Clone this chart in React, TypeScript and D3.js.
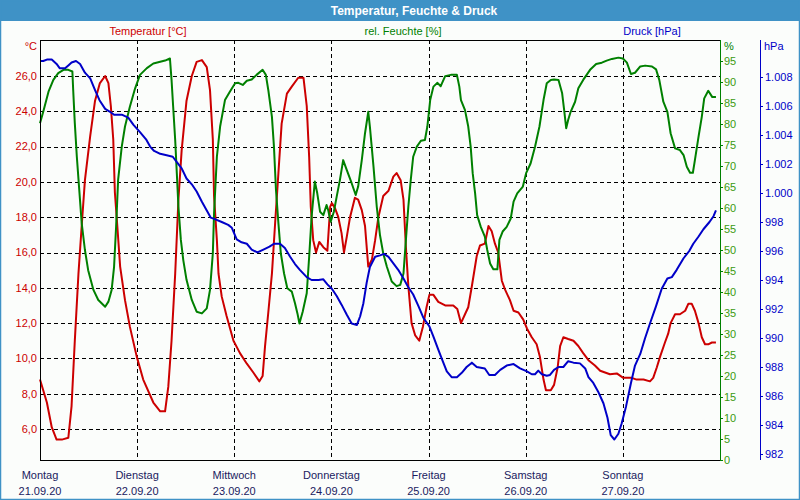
import React from "react";
import * as d3 from "d3";

// hours since Monday 21.09.20 00:00, value
const temperature: [number, number][] = [
  [0, 8.8], [1.7, 7.5], [2.9, 6.1], [4.1, 5.4], [5.4, 5.4], [7.0, 5.5], [7.8, 7.3], [8.6, 11.0], [9.5, 14.8],
  [10.3, 17.5], [11.1, 20.1], [12.4, 22.6], [13.6, 24.6], [14.8, 25.6], [16.1, 26.0], [16.9, 25.6], [17.5, 24.3],
  [18.1, 22.4], [18.5, 19.4], [19.1, 17.5], [19.8, 15.2], [21.0, 13.3], [22.2, 11.8], [23.9, 10.1], [25.5, 8.8],
  [28.0, 7.5], [29.7, 7.0], [30.9, 7.0], [31.7, 8.4], [32.5, 11.0], [33.4, 14.8], [34.2, 19.0], [35.0, 21.8],
  [36.2, 24.6], [37.5, 26.0], [38.7, 26.8], [40.0, 26.9], [41.2, 26.5], [42.0, 25.2], [42.7, 22.4], [43.0, 19.2],
  [43.7, 16.7], [44.1, 14.8], [44.9, 13.5], [46.1, 12.4], [47.8, 11.0], [49.4, 10.3], [51.1, 9.7], [52.7, 9.2],
  [54.2, 8.7], [55.0, 9.0], [55.6, 10.7], [56.4, 12.6], [57.3, 14.8], [58.1, 17.7], [58.9, 20.5], [59.7, 23.3],
  [61.0, 25.0], [62.2, 25.4], [63.8, 25.9], [65.1, 25.9], [65.9, 24.3], [66.5, 21.4], [66.9, 18.6], [67.5, 16.7],
  [68.2, 16.0], [69.0, 16.6], [70.0, 16.3], [71.0, 16.1], [71.7, 18.6], [72.1, 18.8], [72.9, 18.5], [73.7, 18.0],
  [74.5, 17.1], [75.1, 16.0], [75.8, 16.9], [76.6, 18.0], [77.8, 19.1], [78.6, 19.0], [79.5, 18.4], [80.3, 17.5],
  [81.1, 15.2], [82.0, 15.6], [82.8, 16.7], [83.6, 18.0], [84.8, 19.2], [86.1, 19.5], [87.3, 20.3], [88.1, 20.5],
  [89.1, 20.1], [89.8, 19.0], [90.4, 16.3], [91.0, 14.1], [91.8, 12.0], [92.7, 11.3], [93.7, 11.0], [94.6, 11.8],
  [95.5, 12.9], [96.2, 13.6], [97.2, 13.6], [98.4, 13.2], [100.1, 13.0], [102.1, 13.0], [103.1, 12.8], [104.0, 12.0],
  [105.0, 12.5], [105.8, 12.9], [106.7, 14.1], [107.9, 15.8], [108.7, 16.4], [109.9, 16.5], [110.8, 17.5],
  [111.6, 17.2], [112.4, 16.5], [113.2, 16.0], [114.1, 14.4], [114.9, 13.9], [116.1, 13.3], [117.0, 12.7],
  [118.2, 12.6], [119.4, 12.2], [120.3, 11.7], [121.5, 11.2], [122.7, 10.8], [123.5, 10.1], [124.4, 8.8],
  [125.0, 8.2], [126.2, 8.2], [127.0, 8.5], [127.9, 9.5], [128.5, 10.7], [129.3, 11.2], [130.5, 11.1],
  [131.8, 11.0], [133.0, 10.7], [134.2, 10.3], [135.5, 9.9], [137.1, 9.6], [138.4, 9.3], [139.6, 9.2],
  [140.8, 9.1], [142.5, 9.15], [144.1, 8.9], [146.2, 8.9], [147.4, 8.8], [149.1, 8.8], [150.7, 8.7], [151.5, 8.9],
  [152.4, 9.5], [153.2, 10.1], [154.4, 10.9], [155.2, 11.4], [155.8, 12.0], [156.9, 12.5], [158.1, 12.5],
  [159.4, 12.7], [160.2, 13.1], [161.0, 13.1], [161.8, 12.7], [162.7, 12.0], [163.5, 11.2], [164.3, 10.8],
  [165.1, 10.8], [166.0, 10.9], [167.0, 10.9],
];

const humidity: [number, number][] = [
  [0, 80.2], [0.8, 82.9], [2.1, 87.7], [3.3, 90.5], [4.5, 92.1], [5.8, 92.9], [7.0, 92.9], [8.0, 92.5], [8.2, 88.1],
  [8.6, 80.2], [9.1, 72.2], [9.7, 64.3], [10.3, 56.4], [11.1, 50.0], [11.9, 45.2], [13.2, 40.5], [14.4, 38.1],
  [16.1, 36.5], [16.9, 37.7], [17.7, 40.5], [18.3, 46.0], [18.8, 55.5], [19.3, 66.7], [20.2, 74.6], [21.0, 79.4],
  [22.2, 84.1], [23.5, 88.5], [24.7, 91.7], [26.4, 93.3], [28.0, 94.4], [29.7, 94.8], [30.9, 95.1], [32.1, 95.6],
  [32.5, 90.5], [32.9, 84.1], [33.4, 76.2], [33.8, 68.3], [34.2, 60.3], [34.8, 52.4], [35.4, 47.6], [36.2, 42.9],
  [37.5, 38.1], [38.7, 35.3], [40.0, 34.9], [41.2, 36.1], [42.0, 40.5], [42.7, 49.2], [43.0, 58.7], [43.7, 72.2],
  [44.5, 79.4], [45.7, 85.7], [46.9, 87.7], [48.2, 89.7], [49.0, 89.8], [50.1, 89.3], [51.1, 90.3], [52.3, 90.6],
  [53.5, 91.7], [55.0, 92.9], [55.8, 91.7], [56.4, 88.1], [57.3, 81.7], [57.8, 74.6], [58.3, 64.3], [58.9, 56.4],
  [59.5, 49.2], [60.3, 44.4], [61.1, 40.9], [62.2, 40.1], [63.0, 37.3], [63.6, 34.9], [64.1, 32.5], [64.9, 35.3],
  [65.9, 39.7], [66.5, 48.4], [67.1, 57.9], [67.9, 66.3], [68.5, 63.5], [69.2, 59.1], [70.0, 58.3], [70.8, 60.7],
  [71.2, 59.5], [71.8, 56.7], [72.6, 59.1], [73.3, 62.7], [74.1, 66.7], [74.9, 71.4], [75.8, 69.0], [77.0, 65.9],
  [78.0, 63.1], [78.6, 65.1], [79.5, 71.4], [80.3, 77.8], [81.1, 82.9], [81.5, 79.4], [82.4, 69.8], [83.2, 60.3],
  [84.0, 53.5], [84.8, 49.2], [85.7, 46.0], [86.9, 42.5], [88.1, 41.4], [89.0, 41.7], [89.8, 44.4], [90.4, 52.4],
  [91.0, 60.3], [91.6, 66.7], [92.2, 72.2], [93.1, 74.6], [94.1, 76.0], [95.1, 76.2], [95.7, 79.4], [96.4, 85.7],
  [97.2, 88.9], [98.2, 89.8], [99.0, 89.0], [100.1, 91.4], [101.5, 91.7], [103.0, 91.7], [103.6, 88.9],
  [104.0, 85.7], [105.0, 83.3], [105.8, 79.4], [106.4, 74.6], [106.9, 68.3], [107.5, 63.5], [108.0, 58.3],
  [108.9, 55.5], [109.9, 53.2], [110.5, 50.0], [111.2, 46.8], [112.0, 45.4], [113.0, 45.4], [113.5, 52.4],
  [114.3, 54.4], [115.3, 55.5], [116.3, 57.5], [117.0, 61.5], [117.9, 63.5], [119.3, 65.1], [120.1, 68.3],
  [121.2, 70.6], [122.3, 74.6], [123.4, 79.4], [124.4, 85.7], [125.2, 89.7], [126.2, 90.5], [127.0, 90.6],
  [128.1, 90.5], [129.0, 87.3], [129.5, 83.3], [130.0, 79.0], [130.5, 81.0], [131.1, 82.9], [132.2, 85.3],
  [133.0, 88.5], [134.2, 90.5], [135.9, 92.9], [137.4, 94.3], [138.8, 94.6], [140.0, 95.1], [141.3, 95.5],
  [142.9, 95.8], [144.0, 95.6], [145.0, 94.6], [146.0, 91.9], [147.0, 92.2], [148.3, 93.7], [149.5, 93.9],
  [151.2, 93.7], [152.2, 93.0], [153.0, 90.5], [154.0, 85.3], [155.0, 82.9], [155.8, 77.8], [156.9, 74.2],
  [158.1, 73.8], [159.0, 72.6], [159.8, 69.8], [160.6, 68.4], [161.3, 68.4], [161.8, 71.4], [162.7, 77.0],
  [163.5, 81.7], [164.1, 86.1], [165.1, 87.9], [166.1, 86.4], [167.0, 86.4],
];

const pressure: [number, number][] = [
  [0, 1009.1], [0.8, 1009.1], [1.7, 1009.2], [2.9, 1009.2], [4.1, 1008.9], [4.9, 1008.6], [6.2, 1008.6],
  [7.0, 1008.8], [7.8, 1009.0], [8.9, 1009.1], [9.9, 1008.9], [11.1, 1008.3], [12.4, 1007.9], [13.6, 1007.1],
  [14.7, 1006.4], [16.1, 1005.8], [17.3, 1005.6], [18.3, 1005.4], [20.2, 1005.4], [21.8, 1005.2], [23.1, 1004.7],
  [24.7, 1004.2], [26.2, 1003.7], [27.2, 1003.2], [28.2, 1002.9], [29.7, 1002.7], [31.3, 1002.6], [32.8, 1002.5],
  [33.9, 1002.1], [35.0, 1001.7], [36.2, 1001.0], [37.5, 1000.6], [38.7, 1000.1], [40.0, 999.4], [41.2, 998.8],
  [42.2, 998.3], [43.2, 998.2], [44.9, 998.0], [46.5, 997.8], [47.4, 997.6], [48.6, 996.8], [49.8, 996.6],
  [51.1, 996.5], [52.3, 996.1], [53.7, 995.9], [55.2, 996.1], [56.7, 996.3], [57.8, 996.5], [59.3, 996.5],
  [60.5, 996.2], [61.8, 995.6], [63.0, 995.1], [64.2, 994.7], [65.9, 994.2], [67.1, 994.0], [68.8, 994.0],
  [70.0, 994.05], [71.0, 993.7], [72.1, 993.4], [73.3, 992.9], [74.5, 992.3], [75.8, 991.6], [77.0, 991.0],
  [78.3, 990.9], [79.1, 991.5], [79.9, 992.4], [80.7, 993.8], [81.5, 994.9], [82.8, 995.6], [84.0, 995.7],
  [85.0, 995.8], [86.1, 995.6], [87.3, 995.15], [88.5, 994.7], [89.8, 994.1], [91.0, 993.5], [92.2, 993.0],
  [93.5, 992.2], [94.7, 991.4], [96.2, 990.8], [97.2, 990.1], [98.4, 989.2], [99.5, 988.4], [100.5, 987.7],
  [101.7, 987.3], [103.0, 987.3], [104.2, 987.6], [105.4, 988.0], [106.7, 988.3], [107.9, 988.0], [109.9, 987.9],
  [111.0, 987.45], [112.4, 987.45], [113.7, 987.8], [115.3, 988.1], [117.0, 988.2], [118.6, 987.9],
  [120.3, 987.7], [121.5, 987.5], [122.3, 987.5], [123.1, 987.75], [124.0, 987.5], [125.2, 987.4],
  [126.0, 987.45], [127.0, 987.8], [128.1, 988.0], [129.3, 988.0], [130.5, 988.4], [131.8, 988.3],
  [133.4, 988.25], [134.7, 987.9], [135.5, 987.3], [136.7, 986.9], [137.9, 986.3], [139.2, 985.5],
  [140.2, 984.5], [141.0, 983.3], [141.9, 983.0], [142.9, 983.4], [143.7, 984.1], [144.8, 985.3], [146.0, 986.9],
  [147.0, 988.1], [148.3, 988.9], [149.5, 990.0], [150.7, 991.0], [152.2, 992.2], [153.6, 993.4], [155.0, 994.1],
  [156.1, 994.2], [157.3, 994.7], [159.0, 995.5], [160.4, 996.0], [161.4, 996.5], [162.7, 997.0], [163.9, 997.5],
  [165.4, 998.0], [166.4, 998.4], [167.0, 998.8],
];

const dayNames = ["Montag", "Dienstag", "Mittwoch", "Donnerstag", "Freitag", "Samstag", "Sonntag"];
const dayDates = ["21.09.20", "22.09.20", "23.09.20", "24.09.20", "25.09.20", "26.09.20", "27.09.20"];
const tempTicks = [6, 8, 10, 12, 14, 16, 18, 20, 22, 24, 26];
const humTicks = [0, 5, 10, 15, 20, 25, 30, 35, 40, 45, 50, 55, 60, 65, 70, 75, 80, 85, 90, 95];
const pressTicks = [982, 984, 986, 988, 990, 992, 994, 996, 998, 1000, 1002, 1004, 1006, 1008];

const W = 800;
const H = 500;
const L = 40, R = 720, T = 40, B = 460;
const FONT = "'Liberation Sans', Arial, sans-serif";
const RED = "#cc0000";
const GREEN = "#008000";
const BLUE = "#0000c8";
const TITLEBLUE = "#3f92c6";

export default function App() {
  const x = d3.scaleLinear().domain([0, 168]).range([L, R]);
  const yT = d3.scaleLinear().domain([6, 26]).range([429, 76]);
  const yH = d3.scaleLinear().domain([0, 100]).range([B, T]);
  const yP = d3.scaleLinear().domain([982, 1008]).range([454, 77]);

  const lineT = d3.line<[number, number]>().x((d) => x(d[0])).y((d) => yT(d[1]));
  const lineH = d3.line<[number, number]>().x((d) => x(d[0])).y((d) => yH(d[1]));
  const lineP = d3.line<[number, number]>().x((d) => x(d[0])).y((d) => yP(d[1]));

  const fmtT = (v: number) => v.toFixed(1).replace(".", ",");
  const fmtP = (v: number) => (v >= 1000 ? `${Math.floor(v / 1000)}.${String(v % 1000).padStart(3, "0")}` : String(v));

  return (
    <svg
      width={W}
      height={H}
      style={{ position: "fixed", left: 0, top: 0, display: "block" }}
      fontFamily={FONT}
    >
      <rect x={0} y={0} width={W} height={H} fill="#fbfdfb" />
      <rect x={0} y={0} width={W} height={21} fill={TITLEBLUE} />
      <rect x={0.5} y={0.5} width={W - 1} height={H - 1} fill="none" stroke={TITLEBLUE} strokeWidth={1.5} />
      <text x={414} y={15} textAnchor="middle" fill="#ffffff" fontWeight="bold" fontSize={12}>
        Temperatur, Feuchte &amp; Druck
      </text>

      {/* legend captions */}
      <text x={148} y={35} textAnchor="middle" fill={RED} fontSize={11}>Temperatur [°C]</text>
      <text x={403} y={35} textAnchor="middle" fill={GREEN} fontSize={11}>rel. Feuchte [%]</text>
      <text x={652} y={35} textAnchor="middle" fill={BLUE} fontSize={11}>Druck [hPa]</text>

      {/* plot background */}
      <rect x={L} y={T} width={R - L} height={B - T} fill="#fbfdfb" />

      {/* grid */}
      <g stroke="#000" strokeWidth={1} strokeDasharray="4,3" shapeRendering="crispEdges">
        {tempTicks.map((t) => (
          <line key={"h" + t} x1={L} x2={R} y1={Math.round(yT(t)) + 0.5} y2={Math.round(yT(t)) + 0.5} />
        ))}
        {d3.range(1, 7).map((d) => (
          <line key={"v" + d} x1={Math.round(x(d * 24)) + 0.5} x2={Math.round(x(d * 24)) + 0.5} y1={T} y2={B} />
        ))}
      </g>

      {/* series */}
      <g fill="none" strokeWidth={2} strokeLinejoin="round">
        <path d={lineT(temperature) || ""} stroke={RED} />
        <path d={lineH(humidity) || ""} stroke={GREEN} />
        <path d={lineP(pressure) || ""} stroke={BLUE} />
      </g>

      {/* frame */}
      <g shapeRendering="crispEdges">
        <line x1={L} x2={R} y1={T + 0.5} y2={T + 0.5} stroke="#000" />
        <line x1={L + 0.5} x2={L + 0.5} y1={T} y2={B + 1} stroke="#000" />
        <line x1={L} x2={R} y1={B + 0.5} y2={B + 0.5} stroke="#000" />
        <line x1={R + 0.5} x2={R + 0.5} y1={T} y2={B + 1} stroke={GREEN} />
        <line x1={760.5} x2={760.5} y1={T} y2={B} stroke={BLUE} />
      </g>

      {/* temperature axis */}
      <text x={37} y={50} textAnchor="end" fill={RED} fontSize={11}>°C</text>
      {tempTicks.map((t) => (
        <text key={"tt" + t} x={37} y={yT(t)} dy="0.35em" textAnchor="end" fill={RED} fontSize={11}>
          {fmtT(t)}
        </text>
      ))}

      {/* humidity axis */}
      <text x={724} y={50} fill={GREEN} fontSize={11}>%</text>
      {humTicks.map((t) => (
        <g key={"ht" + t}>
          <line x1={R} x2={R + 3} y1={Math.round(yH(t)) + 0.5} y2={Math.round(yH(t)) + 0.5} stroke={GREEN} shapeRendering="crispEdges" />
          <text x={724} y={yH(t)} dy="0.35em" fill="#3a9a10" fontSize={11}>{t}</text>
        </g>
      ))}

      {/* pressure axis */}
      <text x={764} y={50} fill={BLUE} fontSize={11}>hPa</text>
      {pressTicks.map((t) => (
        <g key={"pt" + t}>
          <line x1={760} x2={763} y1={Math.round(yP(t)) + 0.5} y2={Math.round(yP(t)) + 0.5} stroke={BLUE} shapeRendering="crispEdges" />
          <text x={765} y={yP(t)} dy="0.35em" fill={BLUE} fontSize={11}>{fmtP(t)}</text>
        </g>
      ))}

      {/* time axis labels */}
      {dayNames.map((n, i) => (
        <g key={n}>
          <text x={x(i * 24)} y={479} textAnchor="middle" fill="#1a1a60" fontSize={11}>{n}</text>
          <text x={x(i * 24)} y={495} textAnchor="middle" fill="#1a1a60" fontSize={11}>{dayDates[i]}</text>
        </g>
      ))}
    </svg>
  );
}
